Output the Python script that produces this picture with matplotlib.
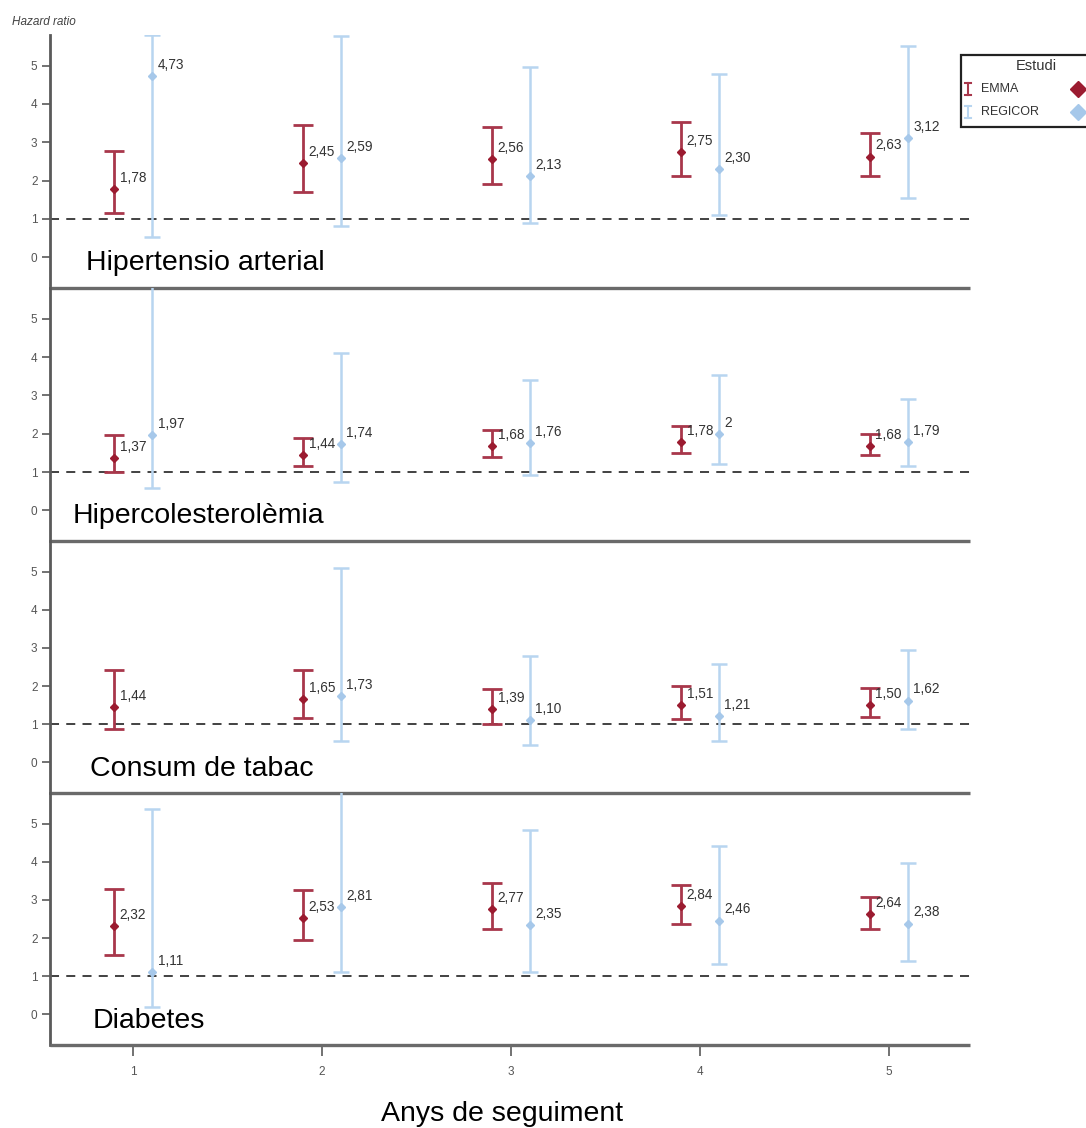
import matplotlib
matplotlib.use("Agg")
import matplotlib.pyplot as plt
from matplotlib.lines import Line2D
from matplotlib.patches import Rectangle

plt.rcParams['font.family'] = ['Liberation Sans', 'DejaVu Sans']

# ---------------- data ----------------
years = [1, 2, 3, 4, 5]
panels = ["Hipertensio arterial", "Hipercolesterolèmia", "Consum de tabac", "Diabetes"]

# EMMA: point estimate, lower CI, upper CI
emma_hr = [
    [1.78, 2.45, 2.56, 2.75, 2.63],
    [1.37, 1.44, 1.68, 1.78, 1.68],
    [1.44, 1.65, 1.39, 1.51, 1.50],
    [2.32, 2.53, 2.77, 2.84, 2.64],
]
emma_lo = [
    [1.16, 1.70, 1.90, 2.11, 2.11],
    [0.99, 1.16, 1.38, 1.49, 1.45],
    [0.87, 1.16, 1.00, 1.15, 1.20],
    [1.57, 1.96, 2.25, 2.36, 2.25],
]
emma_hi = [
    [2.78, 3.46, 3.41, 3.53, 3.25],
    [1.97, 1.90, 2.10, 2.21, 1.99],
    [2.41, 2.41, 1.92, 2.00, 1.95],
    [3.29, 3.26, 3.43, 3.38, 3.08],
]

# REGICOR (None = no estimate)
reg_hr = [
    [4.73, 2.59, 2.13, 2.30, 3.12],
    [1.97, 1.74, 1.76, 2.00, 1.79],
    [None, 1.73, 1.10, 1.21, 1.62],
    [1.11, 2.81, 2.35, 2.46, 2.38],
]
reg_lo = [
    [0.52, 0.81, 0.90, 1.11, 1.56],
    [0.58, 0.75, 0.92, 1.20, 1.16],
    [None, 0.57, 0.45, 0.57, 0.87],
    [0.20, 1.12, 1.12, 1.32, 1.41],
]
reg_hi = [
    [5.80, 5.78, 4.96, 4.78, 5.50],
    [5.85, 4.11, 3.41, 3.53, 2.90],
    [None, 5.08, 2.79, 2.57, 2.95],
    [5.39, 5.85, 4.82, 4.42, 3.96],
]
reg_labels = [
    ["4,73", "2,59", "2,13", "2,30", "3,12"],
    ["1,97", "1,74", "1,76", "2", "1,79"],
    [None, "1,73", "1,10", "1,21", "1,62"],
    ["1,11", "2,81", "2,35", "2,46", "2,38"],
]

y_ticks = [0, 1, 2, 3, 4, 5]

# ---------------- style ----------------
RED_BAR = "#A8374B"
RED_PT = "#9B1B30"
BLUE_BAR = "#B8D5F0"
BLUE_PT = "#A6C8EA"
TXT = "#333333"
SPINE = "#5a5a5a"

W, H = 1086, 1128
fig = plt.figure(figsize=(W / 100, H / 100), dpi=100)

left_px, right_px = 50, 970
tops = [35, 288, 541, 793]
bots = [288, 541, 793, 1045]
label_x_px = [86, 73, 90, 93]


def fmt(v):
    return f"{v:.2f}".replace(".", ",")


for i, name in enumerate(panels):
    t, b = tops[i], bots[i]
    ax = fig.add_axes([left_px / W, 1 - b / H, (right_px - left_px) / W, (b - t) / H])
    ax.set_xlim(0.56, 5.43)
    ax.set_ylim(-0.8, 5.8)
    ax.patch.set_visible(False)

    for s in ["top", "right"]:
        ax.spines[s].set_visible(False)
    ax.spines["left"].set_color(SPINE)
    ax.spines["left"].set_linewidth(2.0)
    ax.spines["bottom"].set_color("#6a6a6a")
    ax.spines["bottom"].set_linewidth(2.4)
    ax.spines["bottom"].set_capstyle("butt")

    ax.set_yticks(y_ticks)
    ax.set_yticklabels([str(v) for v in y_ticks], fontsize=8.5, color="#555555")
    ax.tick_params(axis="y", length=6, width=1.2, color=SPINE, pad=3)
    if i == 3:
        ax.set_xticks(years)
        ax.set_xticklabels([str(v) for v in years], fontsize=8.5, color="#555555")
        ax.tick_params(axis="x", length=8, width=1.2, color=SPINE, pad=7)
    else:
        ax.set_xticks([])

    ax.axhline(1, color="#333333", linestyle=(0, (5, 4)), linewidth=1.3, zorder=1)

    # EMMA
    ex = [y - 0.1 for y in years]
    ax.errorbar(ex, emma_hr[i],
                yerr=[[h - l for h, l in zip(emma_hr[i], emma_lo[i])],
                      [u - h for h, u in zip(emma_hr[i], emma_hi[i])]],
                fmt="D", color=RED_PT, ecolor=RED_BAR, elinewidth=2.0,
                capsize=7, capthick=2.0, markersize=4.5, zorder=3)
    for x, v in zip(ex, emma_hr[i]):
        ax.annotate(fmt(v), (x, v), xytext=(4, 8), textcoords="offset points",
                    fontsize=9.8, color=TXT, va="center", ha="left", zorder=5)

    # REGICOR
    rx, rh, rl, ru, rlab = [], [], [], [], []
    for k, y in enumerate(years):
        if reg_hr[i][k] is None:
            continue
        rx.append(y + 0.1)
        rh.append(reg_hr[i][k])
        rl.append(reg_lo[i][k])
        ru.append(reg_hi[i][k])
        rlab.append(reg_labels[i][k])
    ax.errorbar(rx, rh,
                yerr=[[h - l for h, l in zip(rh, rl)], [u - h for h, u in zip(rh, ru)]],
                fmt="D", color=BLUE_PT, ecolor=BLUE_BAR, elinewidth=1.8,
                capsize=5.5, capthick=1.8, markersize=4.0, zorder=2)
    for x, v, lab in zip(rx, rh, rlab):
        ax.annotate(lab, (x, v), xytext=(4, 8), textcoords="offset points",
                    fontsize=9.8, color=TXT, va="center", ha="left", zorder=5)

    # panel label
    ax.text((label_x_px[i] - left_px) / (right_px - left_px), 0.097, name,
            transform=ax.transAxes, fontsize=20.5, color="black", ha="left", va="center")

# y label
fig.text(12 / W, 1 - 22 / H, "Hazard ratio", fontsize=8.5, style="italic",
         color="#444444", ha="left", va="center")
# x label
fig.text(502 / W, 1 - 1114 / H, "Anys de seguiment", fontsize=20.5, color="black",
         ha="center", va="center")

# legend (drawn in figure coordinates)
lx0, ly0, lx1, ly1 = 961, 55, 1100, 127
fig.patches.append(Rectangle((lx0 / W, 1 - ly1 / H), (lx1 - lx0) / W, (ly1 - ly0) / H,
                             transform=fig.transFigure, facecolor="white",
                             edgecolor="#222222", linewidth=1.6, zorder=10))
fig.text(1036 / W, 1 - 66 / H, "Estudi", fontsize=10.5, color="#333333",
         ha="center", va="center", zorder=11)
for yy, name, cbar, cpt in [(89, "EMMA", RED_BAR, RED_PT), (112, "REGICOR", BLUE_BAR, BLUE_PT)]:
    fy = 1 - yy / H
    h = 6 / H
    fig.lines.append(Line2D([968 / W, 968 / W], [fy - h, fy + h], transform=fig.transFigure,
                            color=cbar, linewidth=1.5, zorder=11))
    for dy in (-h, h):
        fig.lines.append(Line2D([965 / W, 971 / W], [fy + dy, fy + dy], transform=fig.transFigure,
                                color=cbar, linewidth=1.5, zorder=11))
    fig.text(981 / W, fy, name, fontsize=9, color="#333333", ha="left", va="center", zorder=11)
    fig.lines.append(Line2D([1078 / W], [fy], transform=fig.transFigure, marker="D",
                            markersize=8, color=cpt, linestyle="none", zorder=11))

fig.savefig("out.png", dpi=100, facecolor="white")
